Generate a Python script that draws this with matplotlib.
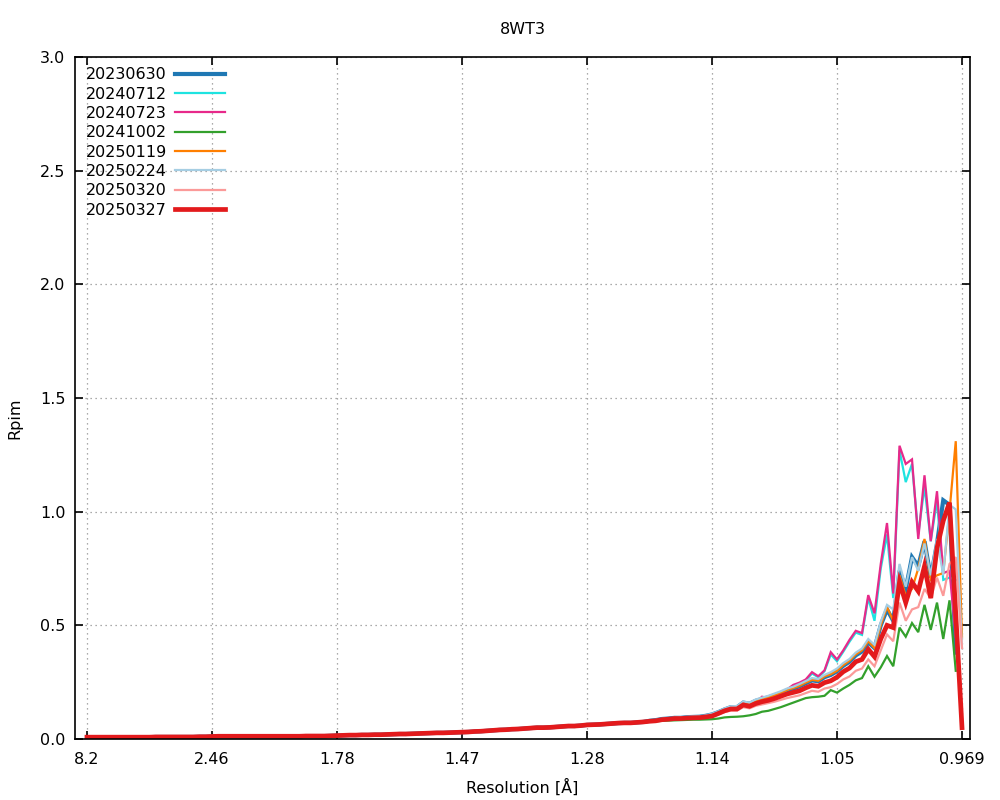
import matplotlib
matplotlib.use("Agg")
import matplotlib.pyplot as plt
import numpy as np

# resolution tick labels (every 20th bin)
tick_labels = ["8.2", "2.46", "1.78", "1.47", "1.28", "1.14", "1.05", "0.969"]

# bins 0..89, practically identical for every dataset
shared = [
    0.008, 0.008, 0.008, 0.008, 0.008, 0.008, 0.008, 0.008, 0.008, 0.008,
    0.008, 0.009, 0.009, 0.009, 0.009, 0.009, 0.009, 0.009, 0.010, 0.010,
    0.011, 0.012, 0.012, 0.012, 0.012, 0.012, 0.012, 0.012, 0.012, 0.012,
    0.012, 0.012, 0.012, 0.012, 0.012, 0.013, 0.013, 0.013, 0.013, 0.014,
    0.015, 0.016, 0.017, 0.017, 0.018, 0.018, 0.019, 0.019, 0.020, 0.021,
    0.022, 0.022, 0.023, 0.024, 0.025, 0.026, 0.027, 0.027, 0.028, 0.029,
    0.030, 0.031, 0.033, 0.034, 0.036, 0.038, 0.040, 0.041, 0.043, 0.044,
    0.046, 0.048, 0.050, 0.050, 0.051, 0.053, 0.055, 0.057, 0.057, 0.059,
    0.062, 0.063, 0.064, 0.066, 0.068, 0.070, 0.071, 0.071, 0.073, 0.075,
]

# bins 90.. (high resolution part) per dataset
tail_20230630 = [
    0.080, 0.083, 0.088, 0.090, 0.093, 0.093, 0.096, 0.097, 0.098, 0.102,
    0.108, 0.118, 0.130, 0.140, 0.140, 0.160, 0.155, 0.168, 0.176, 0.183,
    0.192, 0.202, 0.214, 0.222, 0.232, 0.245, 0.258, 0.254, 0.272, 0.282,
    0.298, 0.322, 0.340, 0.368, 0.385, 0.425, 0.400, 0.500, 0.570, 0.520,
    0.740, 0.660, 0.800, 0.760, 0.870, 0.710, 0.860, 1.050, 1.030, 0.380,
]
tail_20240712 = [
    0.080, 0.082, 0.086, 0.089, 0.092, 0.094, 0.096, 0.098, 0.097, 0.100,
    0.106, 0.118, 0.128, 0.138, 0.140, 0.156, 0.154, 0.158, 0.182, 0.178,
    0.188, 0.200, 0.215, 0.234, 0.244, 0.258, 0.288, 0.272, 0.298, 0.372,
    0.342, 0.384, 0.428, 0.468, 0.458, 0.620, 0.520, 0.750, 0.900, 0.620,
    1.270, 1.130, 1.210, 0.900, 1.110, 0.870, 1.050, 0.700, 0.710, 0.700,
]
tail_20240723 = [
    0.080, 0.082, 0.086, 0.089, 0.092, 0.094, 0.096, 0.098, 0.097, 0.100,
    0.106, 0.118, 0.128, 0.138, 0.140, 0.158, 0.156, 0.158, 0.186, 0.180,
    0.190, 0.202, 0.218, 0.238, 0.248, 0.262, 0.294, 0.276, 0.302, 0.382,
    0.350, 0.390, 0.436, 0.476, 0.466, 0.633, 0.553, 0.770, 0.950, 0.640,
    1.290, 1.210, 1.230, 0.880, 1.160, 0.870, 1.090, 0.730, 0.740, 0.450,
]
tail_20241002 = [
    0.077, 0.078, 0.080, 0.081, 0.082, 0.083, 0.084, 0.085, 0.085, 0.086,
    0.087, 0.090, 0.095, 0.097, 0.098, 0.100, 0.104, 0.110, 0.120, 0.124,
    0.132, 0.140, 0.150, 0.160, 0.170, 0.180, 0.184, 0.186, 0.190, 0.215,
    0.204, 0.222, 0.238, 0.258, 0.268, 0.320, 0.274, 0.315, 0.365, 0.320,
    0.490, 0.450, 0.510, 0.470, 0.590, 0.480, 0.600, 0.440, 0.610, 0.300,
]
tail_20250119 = [
    0.080, 0.083, 0.088, 0.090, 0.093, 0.093, 0.096, 0.097, 0.098, 0.102,
    0.108, 0.118, 0.130, 0.140, 0.140, 0.160, 0.155, 0.168, 0.176, 0.184,
    0.193, 0.204, 0.216, 0.224, 0.234, 0.248, 0.260, 0.256, 0.275, 0.285,
    0.300, 0.325, 0.344, 0.372, 0.390, 0.430, 0.400, 0.500, 0.580, 0.520,
    0.720, 0.630, 0.660, 0.750, 0.880, 0.700, 0.720, 0.730, 1.000, 1.310,
    0.450,
]
tail_20250224 = [
    0.081, 0.084, 0.089, 0.091, 0.094, 0.095, 0.098, 0.099, 0.100, 0.104,
    0.111, 0.121, 0.134, 0.144, 0.145, 0.165, 0.160, 0.174, 0.182, 0.190,
    0.200, 0.210, 0.222, 0.230, 0.242, 0.255, 0.268, 0.264, 0.282, 0.294,
    0.310, 0.334, 0.352, 0.380, 0.398, 0.440, 0.414, 0.515, 0.590, 0.570,
    0.770, 0.670, 0.800, 0.740, 0.860, 0.720, 0.880, 0.720, 1.030, 1.010,
    0.400,
]
tail_20250320 = [
    0.077, 0.079, 0.084, 0.086, 0.088, 0.088, 0.090, 0.091, 0.092, 0.095,
    0.098, 0.108, 0.118, 0.125, 0.125, 0.140, 0.135, 0.146, 0.152, 0.158,
    0.164, 0.172, 0.180, 0.186, 0.192, 0.202, 0.212, 0.208, 0.222, 0.228,
    0.242, 0.262, 0.275, 0.300, 0.310, 0.350, 0.320, 0.390, 0.460, 0.430,
    0.600, 0.520, 0.570, 0.580, 0.660, 0.620, 0.710, 0.630, 0.770, 0.800,
    0.400,
]
tail_20250327 = [
    0.078, 0.080, 0.085, 0.087, 0.090, 0.090, 0.092, 0.093, 0.094, 0.097,
    0.101, 0.112, 0.124, 0.132, 0.132, 0.150, 0.144, 0.156, 0.164, 0.170,
    0.178, 0.188, 0.198, 0.205, 0.212, 0.225, 0.236, 0.232, 0.248, 0.256,
    0.272, 0.296, 0.312, 0.340, 0.350, 0.395, 0.362, 0.440, 0.500, 0.490,
    0.690, 0.600, 0.690, 0.650, 0.760, 0.620, 0.840, 0.960, 1.040, 0.550,
    0.050,
]

datasets = ["20230630", "20240712", "20240723", "20241002",
            "20250119", "20250224", "20250320", "20250327"]
tails = [tail_20230630, tail_20240712, tail_20240723, tail_20241002,
         tail_20250119, tail_20250224, tail_20250320, tail_20250327]
colors = ["#1f78b4", "#1ee3e0", "#e7298a", "#33a02c",
          "#ff7f00", "#a6cee3", "#fb9a99", "#e31a1c"]
widths = [3.0, 1.6, 1.6, 1.6, 1.6, 1.6, 1.6, 3.4]

plt.rcParams["font.family"] = ["DejaVu Sans"]
plt.rcParams["font.size"] = 11.5

fig = plt.figure(figsize=(10, 8), dpi=100)
ax = fig.add_axes([0.075, 0.07625, 0.895, 0.8525])

for name, tail, col, lw in zip(datasets, tails, colors, widths):
    y = np.array(shared + tail)
    ax.plot(np.arange(len(y)), y, color=col, lw=lw, label=name,
            solid_joinstyle="miter")

ax.set_xlim(-1.92, 141.28)
ax.set_ylim(0, 3.0)
ax.set_xticks(np.arange(0, 141, 20))
ax.set_xticklabels(tick_labels)
ax.set_yticks(np.arange(0, 3.01, 0.5))
ax.set_yticklabels(["%.1f" % v for v in np.arange(0, 3.01, 0.5)])
ax.tick_params(direction="in", length=6, width=1.2, top=True, right=True,
               labelsize=11.5)
ax.tick_params(axis="x", pad=9)
ax.tick_params(axis="y", pad=7)
for s in ax.spines.values():
    s.set_linewidth(1.2)
ax.grid(True, color="#909090", linestyle=(0, (1, 3)), linewidth=0.9)
ax.set_axisbelow(True)

ax.legend(loc="upper left", markerfirst=False, frameon=False,
          handlelength=3.1, handletextpad=0.55, labelspacing=0.27,
          borderaxespad=0.3, borderpad=0.35, fontsize=11.5)

fig.text(0.5225, 1 - 29 / 800, "8WT3", ha="center", va="center", fontsize=11.5)
fig.text(0.5225, 1 - 787 / 800, "Resolution [Å]", ha="center", va="center",
         fontsize=11.5)
fig.text(0.015, 1 - 418 / 800, "Rpim", ha="center", va="center",
         rotation=90, fontsize=11.5)

fig.savefig("out.png", dpi=100)
